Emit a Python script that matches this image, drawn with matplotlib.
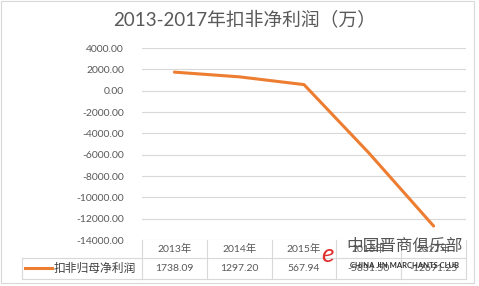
import matplotlib
matplotlib.use("Agg")
import matplotlib.pyplot as plt
import matplotlib.patches as patches

plt.rcParams['font.family'] = ['Lato', 'Noto Sans CJK SC', 'DejaVu Sans']

# 数据
years = ['2013年', '2014年', '2015年', '2016年', '2017年']
profit = [1738.09, 1297.20, 567.94, -5831.50, -12691.25]
profit_labels = ['1738.09', '1297.20', '567.94', '-5831.50', '-12691.25']
series_name = '扣非归母净利润'
title = '2013-2017年扣非净利润（万）'
yticks = list(range(-14000, 4001, 2000))

W, H = 479, 286
fig = plt.figure(figsize=(W / 100, H / 100), dpi=100)

def fx(px):
    return px / W

def fy(py):
    return 1 - py / H

# 外框
fig.patches.append(patches.Rectangle((fx(1), fy(283)), fx(473), 282 / H, transform=fig.transFigure,
                                     fill=False, edgecolor='#D9D9D9', linewidth=0.8))

# 绘图区
left, right, top, bottom = 142, 466, 48, 240
ax = fig.add_axes([fx(left), fy(bottom), fx(right - left), (bottom - top) / H])
ax.set_xlim(-0.5, len(years) - 0.5)
ax.set_ylim(-14000, 4000)
ax.set_yticks(yticks)
ax.set_yticklabels([f'{v:.2f}' for v in yticks], color='#595959', fontsize=7.5)
ax.tick_params(axis='y', length=0, pad=13)
ax.set_xticks([])
for s in ax.spines.values():
    s.set_visible(False)
ax.grid(axis='y', color='#D9D9D9', linewidth=0.8)
ax.set_axisbelow(True)
ax.plot(range(len(years)), profit, color='#ED7D31', linewidth=2.2, solid_capstyle='round')

fig.text(fx(245), fy(19), title, ha='center', va='center', fontsize=13.5, color='#595959')

# 数据表
col_w = (right - left) / len(years)
row1, row2, row3 = 240, 258, 279
lc = '#D9D9D9'
fig.add_artist(plt.Line2D([fx(22), fx(right)], [fy(row2), fy(row2)], color=lc, linewidth=0.8))
fig.add_artist(plt.Line2D([fx(22), fx(right)], [fy(row3), fy(row3)], color=lc, linewidth=0.8))
fig.add_artist(plt.Line2D([fx(22), fx(22)], [fy(row2), fy(row3)], color=lc, linewidth=0.8))
for i in range(len(years) + 1):
    x = left + i * col_w
    fig.add_artist(plt.Line2D([fx(x), fx(x)], [fy(row1), fy(row3)], color=lc, linewidth=0.8))
for i, (yr, lab) in enumerate(zip(years, profit_labels)):
    cx = left + (i + 0.5) * col_w
    fig.text(fx(cx), fy((row1 + row2) / 2), yr, ha='center', va='center', fontsize=7.5, color='#595959')
    fig.text(fx(cx), fy((row2 + row3) / 2), lab, ha='center', va='center', fontsize=7.5, color='#595959')
fig.add_artist(plt.Line2D([fx(25), fx(52)], [fy(268), fy(268)], color='#ED7D31', linewidth=2.2))
fig.text(fx(54), fy(268), series_name, ha='left', va='center', fontsize=8.5, color='#404040')

# 水印
fig.patches.append(patches.Rectangle((fx(320), fy(277)), fx(148), 38 / H, transform=fig.transFigure,
                                     facecolor='white', edgecolor='none', alpha=0.7))
fig.text(fx(405), fy(246), '中国晋商俱乐部', ha='center', va='center', fontsize=12,
         color='#555555')
fig.text(fx(405), fy(266), 'CHINA JIN MARCHANTS CLUB', ha='center', va='center', fontsize=5.5,
         color='#333333', fontweight='bold')
fig.text(fx(328), fy(254), 'e', ha='center', va='center', fontsize=19, color='#e03030',
         style='italic')

fig.savefig('out.png', dpi=100)
